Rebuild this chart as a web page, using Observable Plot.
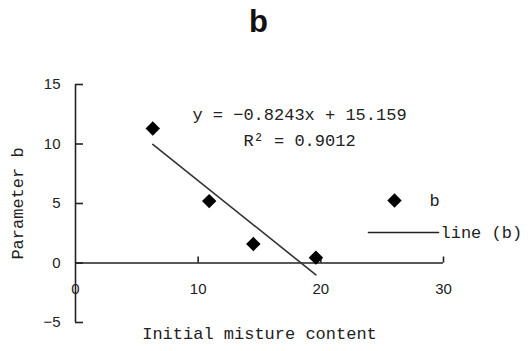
<!DOCTYPE html>
<html>
<head>
<meta charset="utf-8">
<script src="https://cdn.jsdelivr.net/npm/d3@7"></script>
<script src="https://cdn.jsdelivr.net/npm/@observablehq/plot@0.6"></script>
<style>
  html, body { margin: 0; padding: 0; background: #fff; }
  #chart svg { display: block; }
</style>
</head>
<body>
<div id="chart"></div>
<script>
// ---- data ----
const moisture = [6.3, 10.9, 14.5, 19.6];
const paramB = [11.3, 5.2, 1.6, 0.45];
const slope = -0.8243;
const intercept = 15.159;
const rSquared = 0.9012;
const xTicks = [0, 10, 20, 30];
const yTicks = [-5, 0, 5, 10, 15];
const titleText = "b";
const xLabel = "Initial misture content";
const yLabel = "Parameter b";
const seriesLabel = "b";
const lineLabel = "line (b)";

const points = moisture.map((x, i) => ({x, y: paramB[i]}));
const xMin = d3.min(moisture), xMax = d3.max(moisture);
const fit = [xMin, xMax].map(x => ({x, y: slope * x + intercept}));
const eqText = `y = \u2212${Math.abs(slope)}x + ${intercept}`;
const r2Text = `R\u00B2 = ${rSquared}`;

const W = 528, H = 351;
const mL = 75, mR = 85, mT = 84, mB = 29;
const innerH = H - mT - mB;
const yDom = [-5, 15];
// offset from frame bottom to y = 0 (for the x axis, which crosses at zero)
const zeroOffset = innerH * (0 - yDom[0]) / (yDom[1] - yDom[0]);

const monoFont = "'Liberation Mono', 'DejaVu Sans Mono', monospace";
const sansFont = "'Liberation Sans', Arial, sans-serif";
const lineShape = {draw(ctx, l) { ctx.moveTo(0, 0); ctx.lineTo(0, -l); }};

const chart = Plot.plot({
  width: W, height: H,
  marginLeft: mL, marginRight: mR, marginTop: mT, marginBottom: mB,
  style: {background: "#fff", color: "#222"},
  x: {domain: [0, 30]},
  y: {domain: yDom},
  marks: [
    // y axis line and ticks (inward)
    Plot.ruleX([0], {stroke: "#222", strokeWidth: 1.6}),
    Plot.axisY(yTicks, {anchor: "left", tickSize: -8, text: null, stroke: "#222", strokeWidth: 1.6, label: null}),
    Plot.axisY(yTicks, {anchor: "left", tickSize: 0, tickPadding: 15, fontSize: 15, fontFamily: sansFont, fill: "#222", label: null,
      tickFormat: d => d < 0 ? "\u2212" + Math.abs(d) : String(d)}),
    // x axis along y = 0
    Plot.ruleY([0], {stroke: "#222", strokeWidth: 1.6}),
    Plot.axisX(xTicks.filter(d => d !== 0), {anchor: "bottom", dy: -zeroOffset, tickSize: -6, text: null, stroke: "#222", strokeWidth: 1.6, label: null}),
    Plot.axisX(xTicks, {anchor: "bottom", dy: -zeroOffset, tickSize: 0, tickPadding: 20, fontSize: 15, fontFamily: sansFont, fill: "#222", label: null}),
    // regression line
    Plot.line(fit, {x: "x", y: "y", stroke: "#333", strokeWidth: 1.6}),
    // data points
    Plot.dot(points, {x: "x", y: "y", symbol: "diamond2", r: 6.5, fill: "#000", stroke: "none"}),
    // equation
    Plot.text([eqText], {frameAnchor: "top", lineAnchor: "middle", textAnchor: "middle", dx: 40, dy: 30, fontSize: 17, fontFamily: monoFont, fill: "#222"}),
    Plot.text([r2Text], {frameAnchor: "top", lineAnchor: "middle", textAnchor: "middle", dx: 40, dy: 56, fontSize: 17, fontFamily: monoFont, fill: "#222"}),
    // title
    Plot.text([titleText], {frameAnchor: "top", lineAnchor: "middle", textAnchor: "middle", dx: -1, dy: -62, fontSize: 31, fontWeight: "bold", fontFamily: sansFont, fill: "#111"}),
    // axis titles
    Plot.text([xLabel], {frameAnchor: "bottom", lineAnchor: "middle", textAnchor: "middle", dy: 11, fontSize: 17, fontFamily: monoFont, fill: "#222"}),
    Plot.text([yLabel], {frameAnchor: "left", lineAnchor: "middle", textAnchor: "middle", dx: -58, dy: 0, rotate: -90, fontSize: 17, fontFamily: monoFont, fill: "#222"}),
    // legend
    Plot.dot([seriesLabel], {frameAnchor: "right", dx: -49, dy: -3, symbol: "diamond2", r: 6.5, fill: "#000", stroke: "none"}),
    Plot.text([seriesLabel], {frameAnchor: "right", lineAnchor: "middle", dx: -14, dy: -3, textAnchor: "start", fontSize: 17, fontFamily: monoFont, fill: "#222"}),
    Plot.vector([lineLabel], {frameAnchor: "right", dx: -75, dy: 29, rotate: 90, length: 70, anchor: "start", shape: lineShape, stroke: "#222", strokeWidth: 1.6}),
    Plot.text([lineLabel], {frameAnchor: "right", lineAnchor: "middle", dx: -3, dy: 29, textAnchor: "start", fontSize: 17, fontFamily: monoFont, fill: "#222"})
  ]
});
document.getElementById("chart").appendChild(chart);
</script>
</body>
</html>
